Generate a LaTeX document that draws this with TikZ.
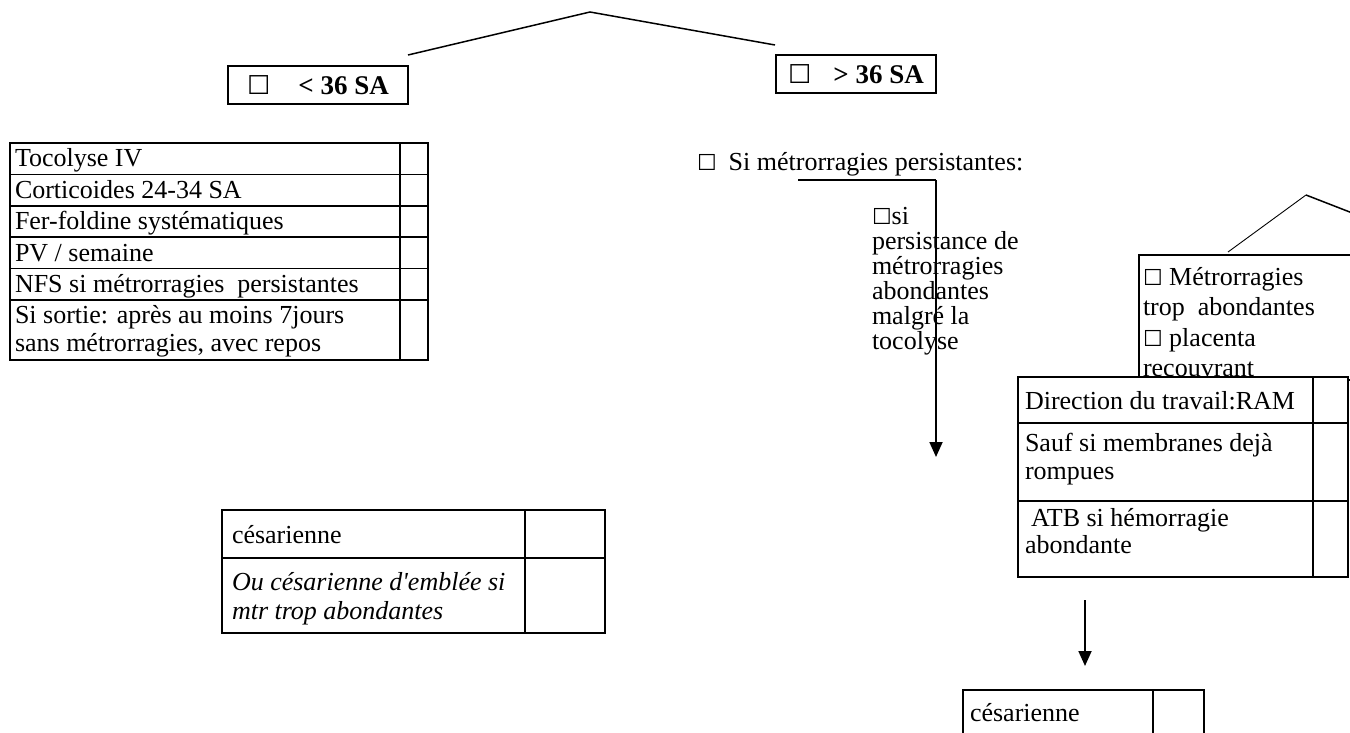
\documentclass[tikz,border=0pt]{standalone}
\usepackage{fontspec}
\setmainfont{Liberation Serif}
\newfontfamily\symfont{DejaVu Sans}
\usetikzlibrary{arrows.meta}
\newcommand{\sqbox}[1][22]{{\symfont\fontsize{#1}{#1}\selectfont ☐}}
\begin{document}
\begin{tikzpicture}[x=1pt,y=-1pt,
  every node/.style={inner sep=0pt,outer sep=0pt},
  body/.style={font=\fontsize{26}{30}\selectfont},
  txt/.style={body,anchor=base west},
  cell/.style={draw,line width=1.7pt,anchor=north west,fill=white},
  link/.style={line width=1.5pt},
  thinlink/.style={line width=0.9pt},
  arrowlink/.style={line width=1.8pt,-{Triangle[length=15pt,width=13pt]}},
  bbox/.style={draw,line width=1.8pt,anchor=north west,font=\bfseries\fontsize{27}{30}\selectfont}
]
\useasboundingbox (0,0) rectangle (1350,733);
\clip (0,0) rectangle (1350,733);

% top branching
\coordinate (apex) at (590,12);
\coordinate (lend) at (408,55);
\coordinate (rend) at (775,45);
\draw[link] (lend) -- (apex) -- (rend);

\node[bbox,minimum width=180pt,minimum height=38pt] (lt) at (228,66) {\sqbox[26]\hspace{28pt}< 36 SA};
\node[bbox,minimum width=160pt,minimum height=38pt] (gt) at (776,55) {\sqbox[26]\hspace{22pt}> 36 SA};

% left table
\node[cell,minimum width=390pt,minimum height=31.4pt] (r1) at (10,143) {};
\node[cell,minimum width=390pt,minimum height=31.4pt] (r2) at (10,174.4) {};
\node[cell,minimum width=390pt,minimum height=31.4pt] (r3) at (10,205.8) {};
\node[cell,minimum width=390pt,minimum height=31.4pt] (r4) at (10,237.2) {};
\node[cell,minimum width=390pt,minimum height=31.4pt] (r5) at (10,268.6) {};
\node[cell,minimum width=390pt,minimum height=60pt] (r6) at (10,300) {};
\node[cell,minimum width=28pt,minimum height=31.4pt] (c1) at (400,143) {};
\node[cell,minimum width=28pt,minimum height=31.4pt] (c2) at (400,174.4) {};
\node[cell,minimum width=28pt,minimum height=31.4pt] (c3) at (400,205.8) {};
\node[cell,minimum width=28pt,minimum height=31.4pt] (c4) at (400,237.2) {};
\node[cell,minimum width=28pt,minimum height=31.4pt] (c5) at (400,268.6) {};
\node[cell,minimum width=28pt,minimum height=60pt] (c6) at (400,300) {};
\node[txt] (t1) at (15,167) {Tocolyse IV};
\node[txt] (t2) at (15,198.4) {Corticoides 24-34 SA};
\node[txt] (t3) at (15,229.8) {Fer-foldine systématiques};
\node[txt] (t4) at (15,261.2) {PV / semaine};
\node[txt] (t5) at (15,292.6) {NFS si métrorragies\ \ persistantes};
\node[txt] (t6) at (15,323) {Si sortie: après au moins 7jours};
\node[txt] (t7) at (15,351) {sans métrorragies, avec repos};

% middle branch
\node[txt] (smp) at (697,171) {\sqbox\hspace{12pt}Si métrorragies persistantes:};
\coordinate (hstart) at (798,180);
\coordinate (corner) at (936,180);
\coordinate (atip) at (936,457);
\node[txt] (m1) at (872,224) {\sqbox si};
\node[txt] (m2) at (872,249) {persistance de};
\node[txt] (m3) at (872,274) {métrorragies};
\node[txt] (m4) at (872,299) {abondantes};
\node[txt] (m5) at (872,324) {malgré la};
\node[txt] (m6) at (872,349) {tocolyse};
\draw[link] (hstart) -- (corner);
\draw[arrowlink] (corner) -- (atip);

% right branch
\coordinate (rapex) at (1306,195);
\coordinate (rl) at (1228,252);
\coordinate (rr) at (1360,216);
\draw[thinlink] (rl) -- (rapex);
\draw[link] (rapex) -- (rr);
\node[cell,line width=1.8pt,minimum width=240pt,minimum height=125pt] (mbox) at (1139,255) {};
\node[txt] (mb1) at (1143,285) {\sqbox\ Métrorragies};
\node[txt] (mb2) at (1143,315.5) {trop\ \ abondantes};
\node[txt] (mb3) at (1143,346) {\sqbox\ placenta};
\node[txt] (mb4) at (1143,376.5) {recouvrant};

\node[cell,minimum width=295pt,minimum height=46pt] (d1) at (1018,377) {};
\node[cell,minimum width=295pt,minimum height=78pt] (d2) at (1018,423) {};
\node[cell,minimum width=295pt,minimum height=76pt] (d3) at (1018,501) {};
\node[cell,minimum width=35pt,minimum height=46pt] (e1) at (1313,377) {};
\node[cell,minimum width=35pt,minimum height=78pt] (e2) at (1313,423) {};
\node[cell,minimum width=35pt,minimum height=76pt] (e3) at (1313,501) {};
\node[txt] (dt1) at (1025,409) {Direction du travail:RAM};
\node[txt] (dt2) at (1025,451) {Sauf si membranes dejà};
\node[txt] (dt3) at (1025,479) {rompues};
\node[txt] (dt4) at (1025,526) {\hspace{6pt}ATB si hémorragie};
\node[txt] (dt5) at (1025,553) {abondante};

\coordinate (a2s) at (1085,600);
\coordinate (a2e) at (1085,666);
\draw[arrowlink] (a2s) -- (a2e);

\node[cell,minimum width=190pt,minimum height=52pt] (b1) at (963,690) {};
\node[cell,minimum width=51pt,minimum height=52pt] (b2) at (1153,690) {};
\node[txt] (bt1) at (970,721) {césarienne};

% left bottom table
\node[cell,minimum width=303pt,minimum height=48pt] (s1) at (222,510) {};
\node[cell,minimum width=303pt,minimum height=75pt] (s2) at (222,558) {};
\node[cell,minimum width=80pt,minimum height=48pt] (s3) at (525,510) {};
\node[cell,minimum width=80pt,minimum height=75pt] (s4) at (525,558) {};
\node[txt] (st1) at (232,543) {césarienne};
\node[txt,font=\itshape\fontsize{26}{30}\selectfont] (st2) at (232,590) {Ou césarienne d\textquotesingle emblée si};
\node[txt,font=\itshape\fontsize{26}{30}\selectfont] (st3) at (232,619) {mtr trop abondantes};
\end{tikzpicture}
\end{document}
